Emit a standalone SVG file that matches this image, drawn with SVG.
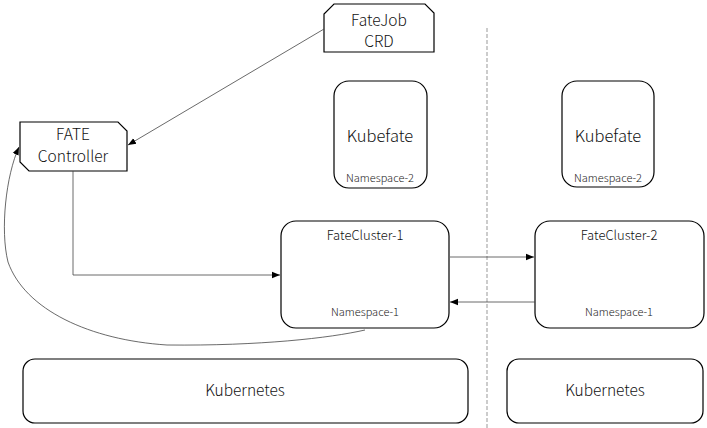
<svg xmlns="http://www.w3.org/2000/svg" width="707" height="428" viewBox="0 0 707 428">
<style>
  .box { fill: #fff; stroke: #000; stroke-width: 1.2; }
  .t { font-family: "Noto Sans CJK SC", "Noto Sans", "Liberation Sans", sans-serif; fill: #111; text-anchor: middle; font-weight: 300; }
  .big { font-size: 15.5px; }
  .kf { font-size: 16.5px; }
  .mid { font-size: 13px; }
  .sm { font-size: 11px; fill: #222; }
  .conn { fill: none; stroke: #444; stroke-width: 0.8; }
</style>
<defs>
  <marker id="ah" viewBox="0 0 10 10" refX="10" refY="5" markerWidth="8" markerHeight="8" markerUnits="userSpaceOnUse" orient="auto">
    <path d="M0,1 L10,5 L0,9 z" fill="#000"/>
  </marker>
</defs>
<rect width="707" height="428" fill="#fff"/>
<line x1="487" y1="28" x2="487" y2="428" stroke="#999" stroke-width="1" stroke-dasharray="4,2"/>
<g id="fatejob-crd">
  <path class="box" d="M334,4 L425,4 L434,13 L434,52 L324,52 L324,14 Z"/>
  <text class="t big" x="379" y="26">FateJob</text>
  <text class="t big" x="379" y="47">CRD</text>
</g>
<g id="fate-controller">
  <path class="box" d="M20,122 L118,122 L127,131 L127,171 L29,171 L20,162 Z" stroke-width="1.4"/>
  <text class="t big" x="73" y="140">FATE</text>
  <text class="t big" x="73" y="162">Controller</text>
</g>
<g id="kubefate-1">
  <rect class="box" x="334" y="81" width="93" height="107" rx="15"/>
  <text class="t kf" x="380" y="142">Kubefate</text>
  <text class="t sm" x="380" y="182">Namespace-2</text>
</g>
<g id="kubefate-2">
  <rect class="box" x="562" y="81" width="92" height="106" rx="15"/>
  <text class="t kf" x="608" y="142">Kubefate</text>
  <text class="t sm" x="608" y="182">Namespace-2</text>
</g>
<g id="fatecluster-1">
  <rect class="box" x="281" y="221" width="168" height="107" rx="15"/>
  <text class="t mid" x="365" y="240">FateCluster-1</text>
  <text class="t sm" x="365" y="316">Namespace-1</text>
</g>
<g id="fatecluster-2">
  <rect class="box" x="535" y="221" width="169" height="107" rx="15"/>
  <text class="t mid" x="619" y="240">FateCluster-2</text>
  <text class="t sm" x="619" y="316">Namespace-1</text>
</g>
<g id="kubernetes-1">
  <rect class="box" x="23" y="359" width="445" height="64" rx="12"/>
  <text class="t big" x="245" y="396">Kubernetes</text>
</g>
<g id="kubernetes-2">
  <rect class="box" x="507" y="359" width="196" height="64" rx="12"/>
  <text class="t big" x="605" y="396">Kubernetes</text>
</g>
<g id="connectors">
  <line class="conn" x1="324" y1="29" x2="128" y2="145" marker-end="url(#ah)"/>
  <path class="conn" d="M73,171 L73,275 L280,275" marker-end="url(#ah)"/>
  <path class="conn" d="M365,330 C330,338 260,346 167,345 C90,340 25,310 8,262 C0,230 6,175 19,147" marker-end="url(#ah)"/>
  <line class="conn" x1="450" y1="257" x2="534" y2="257" stroke="#888" stroke-width="1" marker-end="url(#ah)"/>
  <line class="conn" x1="535" y1="302" x2="450" y2="302" marker-end="url(#ah)"/>
</g>
</svg>
